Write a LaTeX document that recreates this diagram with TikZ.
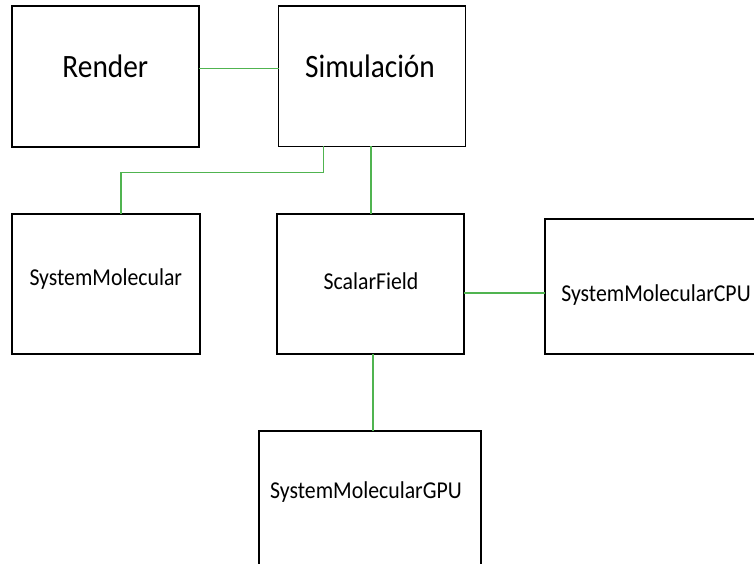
\documentclass[tikz,border=0pt]{standalone}
\usepackage{fontspec}
\setmainfont[FakeStretch=0.9]{Carlito}
\begin{document}
\begin{tikzpicture}[x=1pt,y=-1pt,
  box/.style={draw=black,line width=1.7pt,minimum width=#1,inner sep=0pt,outer sep=0pt},
  link/.style={draw={rgb,255:red,80;green,180;blue,80},line width=1.5pt},
  big/.style={anchor=base,inner sep=0pt,font=\fontsize{32.6}{38}\selectfont},
  small/.style={anchor=base,inner sep=0pt,font=\fontsize{24.2}{28}\selectfont}]
\useasboundingbox (0,0) rectangle (754,564);
\clip (0,0) rectangle (754,564);
\node[box=187.3pt,minimum height=141pt] (render) at (105.3,76.5) {};
\node[box=187pt,minimum height=140.5pt] (sim) at (372,76.25) {};
\node[box=188pt,minimum height=140pt] (sysmol) at (106,284) {};
\node[box=187pt,minimum height=140pt] (scalar) at (370.5,284) {};
\node[box=220pt,minimum height=135pt] (cpu) at (655,286.5) {};
\node[box=222pt,minimum height=140pt] (gpu) at (370,501) {};
\node[big] (rendert) at (105.3,77.7) {Render};
\node[big] (simt) at (370,77.7) {Simulación};
\node[small] (sysmolt) at (105.8,285.7) {SystemMolecular};
\node[small] (scalart) at (371,289) {ScalarField};
\node[small] (cput) at (656,301) {SystemMolecularCPU};
\node[small] (gput) at (366,498) {SystemMolecularGPU};
\coordinate (ly) at (0,68.7);
\coordinate (c1) at (323.3,172.7);
\coordinate (c2) at (121,172.7);
\coordinate (c3) at (371,0);
\coordinate (c4) at (0,293);
\coordinate (c5) at (373,0);
\draw[link] (render.east |- ly) -- (sim.west |- ly);
\draw[link] (sim.south -| c1) |- (c2) -- (c2 |- sysmol.north);
\draw[link] (c3 |- sim.south) -- (c3 |- scalar.north);
\draw[link] (scalar.east |- c4) -- (cpu.west |- c4);
\draw[link] (scalar.south -| c5) -- (c5 |- gpu.north);
\end{tikzpicture}
\end{document}
